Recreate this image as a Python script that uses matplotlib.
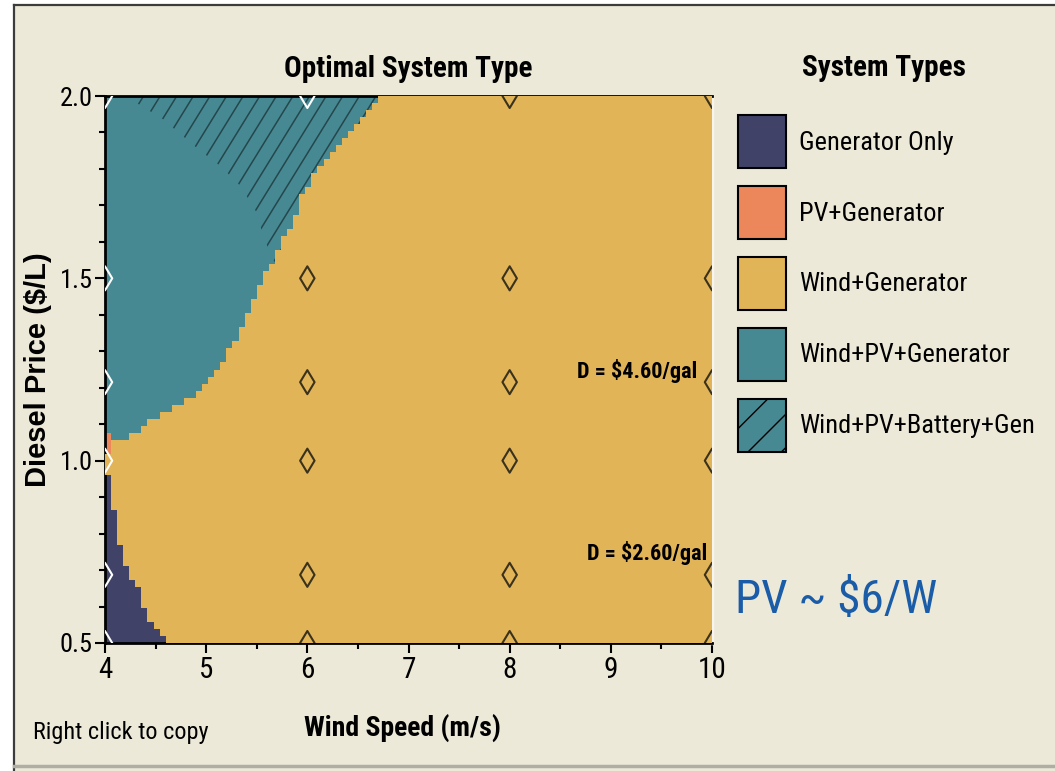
import numpy as np
import matplotlib
matplotlib.use("Agg")
import matplotlib.pyplot as plt
from matplotlib import font_manager
from matplotlib.colors import ListedColormap
from matplotlib.patches import Patch, Polygon, Rectangle
from matplotlib.lines import Line2D
from matplotlib.collections import LineCollection
from matplotlib.ticker import MultipleLocator, FormatStrFormatter

# optimal system types and their fill colours
system_types = ["Generator Only", "PV+Generator", "Wind+Generator",
                "Wind+PV+Generator", "Wind+PV+Battery+Gen"]
type_colors = ["#404268", "#EB875A", "#E2B458", "#478993", "#478993"]

# lower edge of the Wind+PV+Generator region (wind m/s -> diesel $/L)
teal_wind = [4.00, 4.15, 4.28, 4.47, 4.67, 4.84, 5.04, 5.17, 5.30, 5.40, 5.50,
             5.61, 5.70, 5.80, 5.90, 5.98, 6.10, 6.25, 6.45, 6.62, 6.70]
teal_price = [1.048, 1.051, 1.076, 1.112, 1.147, 1.175, 1.221, 1.276, 1.339,
              1.405, 1.460, 1.523, 1.578, 1.624, 1.687, 1.742, 1.797, 1.852,
              1.907, 1.962, 2.000]

# upper edge of the Generator Only region
gen_wind = [4.00, 4.05, 4.10, 4.17, 4.23, 4.28, 4.35, 4.41, 4.47, 4.62]
gen_price = [0.961, 0.961, 0.832, 0.755, 0.700, 0.665, 0.637, 0.582, 0.544, 0.500]

# thin PV+Generator strip at the lowest wind speed
pv_wind_max = 4.05
pv_price_range = (1.021, 1.076)

# lower edge of the battery (hatched) region
batt_wind = [4.20, 4.57, 4.91, 5.14, 5.34, 5.50, 5.56, 5.63, 5.70]
batt_price = [2.000, 1.937, 1.857, 1.808, 1.753, 1.680, 1.620, 1.570, 1.530]

# sensitivity cases
LITRES_PER_GAL = 3.785
diesel_gal = [2.60, 4.60]
sens_wind = [4, 6, 8, 10]
sens_price = [0.5, diesel_gal[0] / LITRES_PER_GAL, 1.0,
              diesel_gal[1] / LITRES_PER_GAL, 1.5, 2.0]

BG = "#ECE9D8"
HATCH = "#24474c"

names = {f.name for f in font_manager.fontManager.ttflist}
NARROW = next((n for n in ["Liberation Sans Narrow", "Roboto Condensed",
                           "Open Sans Condensed"] if n in names), "Liberation Sans")
plt.rcParams["font.family"] = [NARROW, "DejaVu Sans"]
plt.rcParams["hatch.color"] = HATCH

W_PX, H_PX = 1055, 771


def fx(x):
    return x / W_PX


def fy(y):
    return 1 - y / H_PX


fig = plt.figure(figsize=(W_PX / 100, H_PX / 100), dpi=100, facecolor="white")

# window panel with its frame
fig.add_artist(Rectangle((fx(14), 0), 1 - fx(14), fy(5), transform=fig.transFigure,
                         facecolor=BG, edgecolor="none", zorder=-10))
fig.add_artist(Line2D([fx(14), fx(14)], [0, fy(5)], transform=fig.transFigure,
                      color="#3c3c3c", lw=1.6))
fig.add_artist(Line2D([fx(14), 1], [fy(5), fy(5)], transform=fig.transFigure,
                      color="#3c3c3c", lw=1.6))
fig.add_artist(Line2D([fx(14), 1], [fy(766), fy(766)], transform=fig.transFigure,
                      color="#b0aea2", lw=2.5))

ax = fig.add_axes([fx(105), fy(643), fx(712) - fx(105), fy(96) - fy(643)])
ax.set_facecolor(BG)

# category grid
w_edges = np.linspace(4, 10, 101)
p_edges = np.linspace(0.5, 2.0, 79)
W, P = np.meshgrid((w_edges[:-1] + w_edges[1:]) / 2, (p_edges[:-1] + p_edges[1:]) / 2)
cat = np.full(W.shape, 2)
cat[P > np.interp(W, teal_wind, teal_price, right=9.0)] = 3
cat[P < np.interp(W, gen_wind, gen_price, right=0.0)] = 0
cat[(W < pv_wind_max) & (P > pv_price_range[0]) & (P < pv_price_range[1])] = 1

cmap = ListedColormap(type_colors[:4])
ax.pcolormesh(w_edges, p_edges, cat, cmap=cmap, vmin=-0.5, vmax=3.5, zorder=1)

# battery region hatching, steep lines clipped to the region
clip = Polygon(list(zip(batt_wind, batt_price)) + [(7.5, 1.53), (7.5, 2.0)],
               closed=True, transform=ax.transData)
ax_w, ax_h = 607, 547
segs = []
for k in range(-5, 80):
    x0 = (22 + k * 16.6) / ax_w
    segs.append([(x0, 1.0), (x0 - (ax_h / 1.62) / ax_w, 0.0)])
hatch = LineCollection(segs, colors=HATCH, linewidths=1.1,
                       transform=ax.transAxes, zorder=2)
hatch.set_clip_path(clip)
ax.add_collection(hatch)

# Wind+Generator cells again on top so hatching stops at the cell edges
ax.pcolormesh(w_edges, p_edges, np.ma.masked_where(cat != 2, cat), cmap=cmap,
              vmin=-0.5, vmax=3.5, zorder=3)

# sensitivity points
sw, sp = np.meshgrid(sens_wind, sens_price)
sw, sp = sw.ravel(), sp.ravel()
pt_cat = cat[np.clip(np.searchsorted(p_edges, sp) - 1, 0, len(p_edges) - 2),
             np.clip(np.searchsorted(w_edges, sw) - 1, 0, len(w_edges) - 2)]
edge = ["white" if (w == sens_wind[0] or c in (0, 3)) else "#3a321c"
        for w, c in zip(sw, pt_cat)]
ax.scatter(sw, sp, marker="d", s=150, facecolors="none", edgecolors=edge,
           linewidths=1.5, zorder=5)

ax.text(9.85, 1.246, f"D = ${diesel_gal[1]:.2f}/gal", ha="right", va="center",
        fontsize=16, fontweight="bold", zorder=6)
ax.text(9.95, 0.747, f"D = ${diesel_gal[0]:.2f}/gal", ha="right", va="center",
        fontsize=16, fontweight="bold", zorder=6)

ax.set_xlim(4, 10)
ax.set_ylim(0.5, 2.0)
ax.xaxis.set_major_locator(MultipleLocator(1))
ax.xaxis.set_minor_locator(MultipleLocator(0.5))
ax.yaxis.set_major_locator(MultipleLocator(0.5))
ax.yaxis.set_minor_locator(MultipleLocator(0.1))
ax.yaxis.set_major_formatter(FormatStrFormatter("%.1f"))
ax.tick_params(which="major", direction="out", length=7, width=1.5, color="black")
ax.tick_params(which="minor", direction="out", length=4, width=1.5, color="black")
ax.tick_params(axis="x", labelsize=21, pad=2)
ax.tick_params(axis="y", labelsize=19, pad=2)

for side in ("left", "bottom", "top"):
    ax.spines[side].set_color("black")
    ax.spines[side].set_linewidth(2)
ax.spines["right"].set_color("#f7f5ee")
ax.spines["right"].set_linewidth(2.5)

ax.set_title("Optimal System Type", fontsize=21, fontweight="bold", pad=14)
ax.set_xlabel("Wind Speed (m/s)", fontsize=20, fontweight="bold")
ax.xaxis.set_label_coords(0.49, -0.13)
ax.set_ylabel("Diesel Price ($/L)", fontsize=21, fontweight="bold",
              family=["Liberation Sans", "DejaVu Sans"])
ax.yaxis.set_label_coords(-0.088, 0.5)

fig.text(fx(33), fy(739), "Right click to copy", fontsize=17.5, va="baseline")
fig.text(fx(735), fy(613), "PV ~ $6/W", fontsize=34, color="#1A5CA8", va="baseline")

# legend of system types
fig.text(fx(884), fy(68), "System Types", fontsize=21, fontweight="bold",
         ha="center", va="center")
handles = [Patch(facecolor=c, edgecolor="black", linewidth=1.5) for c in type_colors]
handles[-1].set_hatch("/")
fig.legend(handles, system_types, loc="upper left",
           bbox_to_anchor=(fx(738), fy(115)), frameon=False, fontsize=19,
           borderpad=0, handlelength=1.82, handleheight=2.74,
           labelspacing=0.66, handletextpad=0.5, borderaxespad=0)

fig.savefig("out.png", dpi=100, facecolor=fig.get_facecolor())
